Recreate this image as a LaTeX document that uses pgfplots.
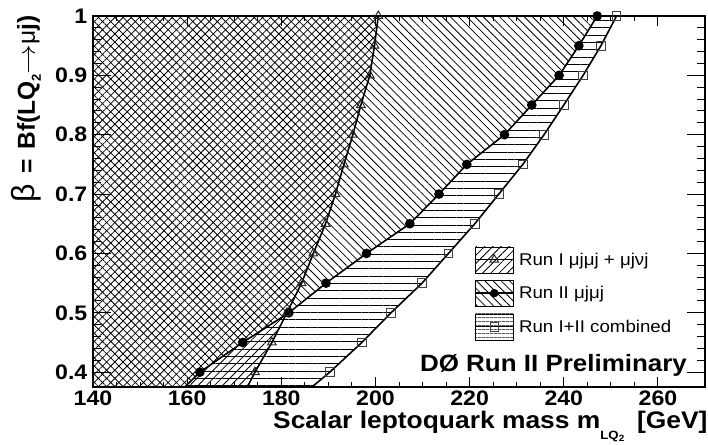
\documentclass[border=0pt]{standalone}
\usepackage{fontspec}
\setmainfont{Liberation Sans}
\usepackage{pgfplots}
\pgfplotsset{compat=1.18}
\usepackage{pgfplotstable}
\usetikzlibrary{patterns.meta}

% Run I (mu j mu j + mu j nu j) -- first row is the crossing with the frame
\pgfplotstableread{
x y
172.8 0.375
174.4 0.40
178.0 0.45
181.2 0.50
184.3 0.55
186.8 0.60
189.4 0.65
191.5 0.70
193.3 0.75
195.2 0.80
196.9 0.85
198.8 0.90
199.8 0.95
200.6 1.00
}\runI
% Run II (mu j mu j)
\pgfplotstableread{
x y
159.5 0.375
162.7 0.40
171.8 0.45
181.6 0.50
189.5 0.55
198.1 0.60
207.3 0.65
213.5 0.70
219.4 0.75
227.4 0.80
233.2 0.85
239.0 0.90
243.2 0.95
247.1 1.00
}\runII
% Run I+II combined
\pgfplotstableread{
x y
186.5 0.375
190.3 0.40
197.1 0.45
203.3 0.50
209.9 0.55
215.5 0.60
221.1 0.65
226.2 0.70
231.3 0.75
235.8 0.80
240.0 0.85
244.1 0.90
247.9 0.95
251.2 1.00
}\comb

\tikzset{
  hatchNE/.style={pattern={Lines[angle=45,distance=5.8pt,line width=0.8pt]}},
  hatchNW/.style={pattern={Lines[angle=-45,distance=5.8pt,line width=0.8pt]}},
  hatchH/.style={pattern={Lines[angle=0,distance=7.3pt,line width=0.8pt]}},
}
\newcommand{\wide}[1]{\scalebox{1.1}[1]{#1}}

\begin{document}
\begin{tikzpicture}
\begin{axis}[
  name=ax,
  scale only axis, width=612pt, height=371pt,
  xmin=140, xmax=270, ymin=0.375, ymax=1.0,
  xtick={140,160,...,260}, ytick={0.4,0.5,0.6,0.7,0.8,0.9,1.0},
  minor x tick num=3, minor y tick num=4,
  tick align=inside,
  axis on top,
  axis line style={line width=1.6pt},
  tick style={line width=1pt, black},
  major tick length=10pt, minor tick length=5pt,
  ytick style={/pgfplots/major tick length=18pt, /pgfplots/minor tick length=8pt},
  /pgf/number format/assume math mode=true,
  ticklabel style={font=\bfseries\fontsize{21}{21}\selectfont, xscale=1.1},
  xticklabel style={inner sep=0pt, yshift=-4pt},
  yticklabel style={inner sep=0pt, xshift=-5pt},
  xlabel={\wide{\bfseries Scalar leptoquark mass m\raisebox{-11pt}{\fontsize{12}{12}\selectfont LQ\raisebox{-2.5pt}{\fontsize{9}{9}\selectfont 2}}\hspace{5pt} [GeV]}},
  every axis x label/.style={at={([xshift=180pt,yshift=-41pt]rel axis cs:0,0)}, anchor=base west, inner sep=0pt, font=\fontsize{24}{24}\selectfont},
  ylabel={{\fontsize{32}{32}\selectfont β}\hspace{10pt}\bfseries =\hspace{10pt}Bf(LQ\raisebox{-6pt}{\fontsize{13}{13}\selectfont 2}\scalebox{1.2}[1]{$\rightarrow$}\mdseries μ\bfseries j)},
  every axis y label/.style={at={([xshift=-58pt,yshift=1pt]rel axis cs:0,1)}, rotate=90, anchor=base east, inner sep=0pt, font=\fontsize{24.5}{24.5}\selectfont},
  legend style={at={(axis cs:221.0,0.612)}, anchor=north west, draw=none, fill=none,
    inner sep=0pt, row sep=7pt, font=\fontsize{17}{19}\selectfont,
    nodes={inner sep=2pt}},
  legend cell align=left,
]
% filled exclusion regions
\addplot[forget plot, draw=none, hatchH] coordinates {
 (140,0.375) (186.5,0.375) (190.3,0.40) (197.1,0.45) (203.3,0.50) (209.9,0.55) (215.5,0.60)
 (221.1,0.65) (226.2,0.70) (231.3,0.75) (235.8,0.80) (240.0,0.85) (244.1,0.90) (247.9,0.95)
 (251.2,1.00) (140,1.0)} -- cycle;
\addplot[forget plot, draw=none, fill=white] coordinates {
 (140,0.375) (159.5,0.375) (162.7,0.40) (171.8,0.45) (181.6,0.50) (189.5,0.55) (198.1,0.60)
 (207.3,0.65) (213.5,0.70) (219.4,0.75) (227.4,0.80) (233.2,0.85) (239.0,0.90) (243.2,0.95)
 (247.1,1.00) (140,1.0)} -- cycle;
\addplot[forget plot, draw=none, hatchNW] coordinates {
 (140,0.375) (159.5,0.375) (162.7,0.40) (171.8,0.45) (181.6,0.50) (189.5,0.55) (198.1,0.60)
 (207.3,0.65) (213.5,0.70) (219.4,0.75) (227.4,0.80) (233.2,0.85) (239.0,0.90) (243.2,0.95)
 (247.1,1.00) (140,1.0)} -- cycle;
\addplot[forget plot, draw=none, hatchNE] coordinates {
 (140,0.375) (172.8,0.375) (174.4,0.40) (178.0,0.45) (181.2,0.50) (184.3,0.55) (186.8,0.60)
 (189.4,0.65) (191.5,0.70) (193.3,0.75) (195.2,0.80) (196.9,0.85) (198.8,0.90) (199.8,0.95)
 (200.6,1.00) (140,1.0)} -- cycle;
% boundary curves with markers
\addplot[forget plot, black, line width=1.6pt, mark=square, mark size=4.3pt, mark repeat=1, mark phase=2,
  mark options={draw=black!75, line width=0.9pt}] table {\comb};
\addplot[forget plot, black, line width=1.6pt, mark=*, mark size=4pt, mark repeat=1, mark phase=2,
  mark options={fill=black}] table {\runII};
\addplot[forget plot, black, line width=1.6pt, mark=triangle, mark size=5pt, mark repeat=1, mark phase=2,
  mark options={draw=black!85, line width=1pt}] table {\runI};
% legend
\addlegendimage{legend image code/.code={
  \path[hatchNE] (0pt,-13pt) rectangle (38pt,13pt);
  \draw[line width=1.5pt] (0pt,0pt) -- (38pt,0pt);
  \draw[mark=triangle, mark size=5pt, mark options={draw=black!85, line width=1pt, solid}] plot coordinates {(19pt,0pt)};
}}
\addlegendimage{legend image code/.code={
  \path[hatchNW] (0pt,-13pt) rectangle (38pt,13pt);
  \draw[line width=1.5pt] (0pt,0pt) -- (38pt,0pt);
  \draw[mark=*, mark size=4pt, mark options={fill=black}] plot coordinates {(19pt,0pt)};
}}
\addlegendimage{legend image code/.code={
  \path[pattern={Lines[angle=0,distance=4pt,line width=0.8pt]}] (0pt,-13pt) rectangle (38pt,13pt);
  \draw[line width=1.5pt] (0pt,0pt) -- (38pt,0pt);
  \draw[mark=square, mark size=4.3pt, mark options={draw=black!75, line width=0.9pt}] plot coordinates {(19pt,0pt)};
}}
\legend{\hspace{3pt}\wide{Run I μjμj + μjνj}, \hspace{3pt}\wide{Run II μjμj}, \hspace{3pt}\wide{Run I+II combined}}
\node[anchor=base east, font=\bfseries\fontsize{23.6}{23.6}\selectfont, inner sep=0pt] at (axis cs:266.2,0.401) {\wide{DØ Run II Preliminary}};
\end{axis}
\pgfresetboundingbox
\path[use as bounding box] ([xshift=-93pt,yshift=-57pt]ax.south west) rectangle ([xshift=3pt,yshift=16pt]ax.north east);
\end{tikzpicture}
\end{document}
